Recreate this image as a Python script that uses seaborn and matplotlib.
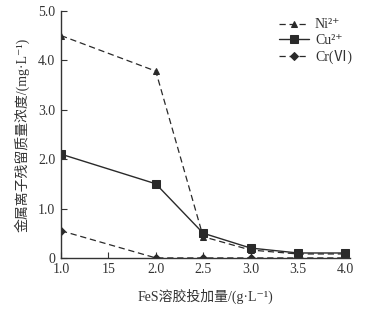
import matplotlib
matplotlib.use("Agg")
import matplotlib.pyplot as plt
import seaborn as sns
import pandas as pd

dose = [1.0, 2.0, 2.5, 3.0, 3.5, 4.0]
ni = [4.5, 3.78, 0.43, 0.16, 0.08, 0.08]
cu = [2.1, 1.5, 0.5, 0.2, 0.1, 0.1]
cr = [0.55, 0.0, 0.0, 0.0, 0.0, 0.0]
series_names = ["Ni²⁺", "Cu²⁺", "Cr(Ⅵ)"]
xtick_vals = [1.0, 1.5, 2.0, 2.5, 3.0, 3.5, 4.0]
xtick_labels = ["1.0", "15", "2.0", "2.5", "3.0", "3.5", "4.0"]
ytick_vals = [0, 1, 2, 3, 4, 5]
ytick_labels = ["0", "1.0", "2.0", "3.0", "4.0", "5.0"]

sns.set_style("ticks")
plt.rcParams["font.family"] = ["Liberation Serif", "Noto Sans CJK SC", "DejaVu Sans"]

df = pd.DataFrame({
    "dose": dose * 3,
    "value": ni + cu + cr,
    "series": [series_names[0]] * 6 + [series_names[1]] * 6 + [series_names[2]] * 6,
})

fig = plt.figure(figsize=(3.72, 3.10), dpi=100)
ax = fig.add_axes([0.164, 0.168, 0.777, 0.797])

color = "#2a2a2a"
styles = {
    series_names[0]: dict(marker="^", linestyle=(0, (5, 3)), markersize=5, lw=0.9),
    series_names[1]: dict(marker="s", linestyle="-", markersize=5.5, lw=1.0),
    series_names[2]: dict(marker="D", linestyle=(0, (5, 3)), markersize=4, lw=0.9),
}
for name in series_names:
    sub = df[df["series"] == name]
    st = styles[name]
    sns.lineplot(data=sub, x="dose", y="value", ax=ax, color=color,
                 marker=st["marker"], markersize=st["markersize"],
                 linestyle=st["linestyle"], linewidth=st["lw"],
                 markeredgecolor=color, label=name)

ax.set_xlim(1.0, 4.05)
ax.set_ylim(0, 5.0)
ax.set_xticks(xtick_vals)
ax.set_xticklabels(xtick_labels)
ax.set_yticks(ytick_vals)
ax.set_yticklabels(ytick_labels)
ax.tick_params(direction="in", length=4, width=0.8, labelsize=10, colors="#333333")
ax.tick_params(axis="x", pad=4)
ax.tick_params(axis="y", pad=4)
for s in ["top", "right"]:
    ax.spines[s].set_visible(False)
for s in ["left", "bottom"]:
    ax.spines[s].set_color("#333333")
    ax.spines[s].set_linewidth(1.0)

ax.set_xlabel("FeS溶胶投加量/(g·L⁻¹)", fontsize=10, color="#333333", labelpad=9)
ax.set_ylabel("金属离子残留质量浓度/(mg·L⁻¹)", fontsize=10, color="#333333", labelpad=6)

leg = ax.legend(loc="upper right", bbox_to_anchor=(1.05, 1.02), frameon=False,
                fontsize=10, handlelength=2.2, handletextpad=0.4, labelspacing=0.2)
for t in leg.get_texts():
    t.set_color("#333333")

fig.savefig("out.png", dpi=100)
